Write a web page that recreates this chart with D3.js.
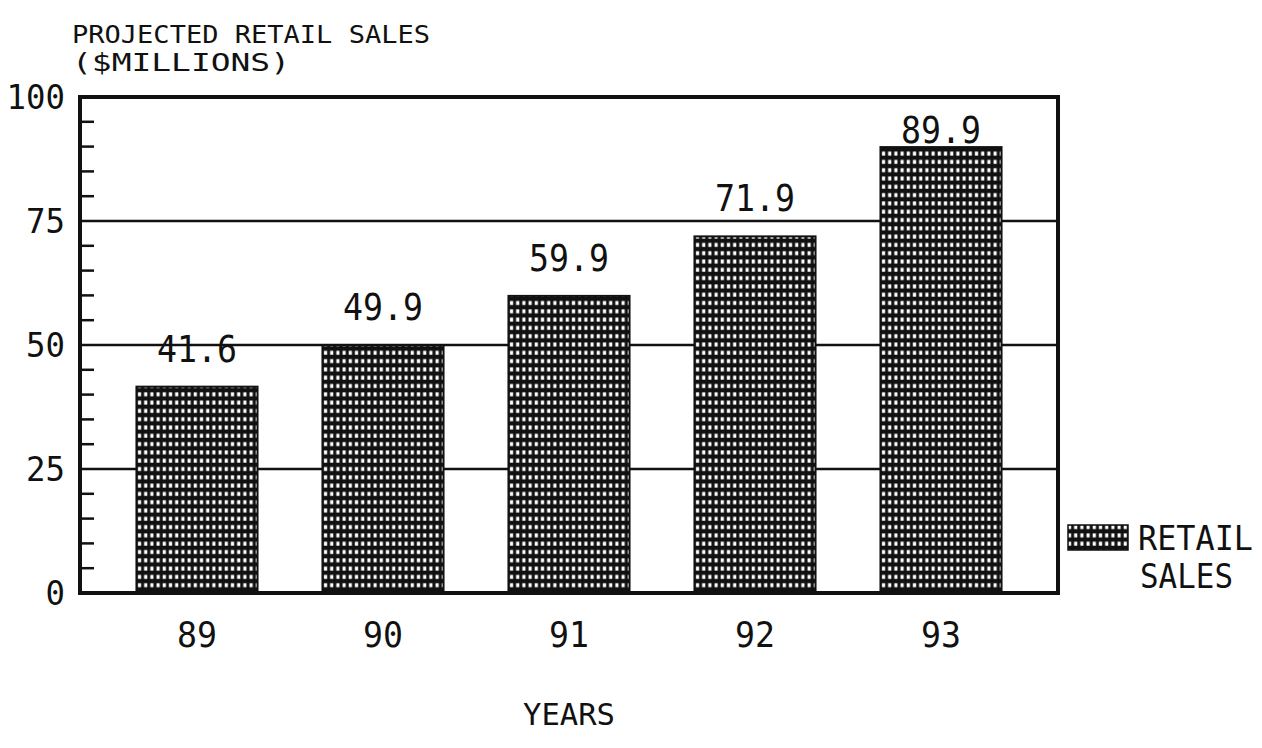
<!DOCTYPE html>
<html>
<head>
<meta charset="utf-8">
<script src="https://cdn.jsdelivr.net/npm/d3@7"></script>
<style>
  body { margin: 0; background: #fff; }
  svg text { font-family: "DejaVu Sans Mono", monospace; fill: #111; }
</style>
</head>
<body>
<svg width="1262" height="748"></svg>
<script>
const years = ["89", "90", "91", "92", "93"];
const sales = [41.6, 49.9, 59.9, 71.9, 89.9];
const yTicks = [0, 25, 50, 75, 100];
const minorTicks = d3.range(5, 100, 5).filter(v => v % 25 !== 0);

const svg = d3.select("svg");
const plotLeft = 80, plotRight = 1058, plotTop = 97, plotBottom = 593;

const x = d3.scaleBand().domain(years).range([plotLeft, plotRight])
    .paddingInner(0.349).paddingOuter(0.3035);
const y = d3.scaleLinear().domain([0, 100]).range([plotBottom, plotTop]);

// cross-hatch fill like the plotter
const defs = svg.append("defs");
const pat = defs.append("pattern")
    .attr("id", "grid")
    .attr("patternUnits", "userSpaceOnUse")
    .attr("width", 6.2).attr("height", 8.3);
pat.append("rect").attr("width", 6.2).attr("height", 8.3).attr("fill", "#111");
pat.append("rect").attr("x", 1.5).attr("y", 2.2).attr("width", 3.2).attr("height", 4).attr("fill", "#fff");

// gridlines
svg.selectAll("line.grid").data(yTicks.filter(v => v > 0 && v < 100))
    .enter().append("line")
    .attr("class", "grid")
    .attr("x1", plotLeft).attr("x2", plotRight)
    .attr("y1", d => y(d)).attr("y2", d => y(d))
    .attr("stroke", "#111").attr("stroke-width", 2.5);

// minor ticks inside the left axis
svg.selectAll("line.minor").data(minorTicks)
    .enter().append("line")
    .attr("class", "minor")
    .attr("x1", plotLeft).attr("x2", plotLeft + 14)
    .attr("y1", d => y(d)).attr("y2", d => y(d))
    .attr("stroke", "#111").attr("stroke-width", 2.5);

// bars
svg.selectAll("rect.bar").data(sales)
    .enter().append("rect")
    .attr("class", "bar")
    .attr("x", (d, i) => x(years[i]))
    .attr("y", d => y(d))
    .attr("width", x.bandwidth())
    .attr("height", d => y(0) - y(d))
    .attr("fill", "url(#grid)")
    .attr("stroke", "#111").attr("stroke-width", 2);

// frame
svg.append("path")
    .attr("d", `M${plotLeft},${plotBottom} V${plotTop} H${plotRight} V${plotBottom} Z`)
    .attr("fill", "none").attr("stroke", "#111").attr("stroke-width", 4);

// value labels
svg.selectAll("text.val").data(sales)
    .enter().append("text")
    .attr("class", "val")
    .attr("x", (d, i) => x(years[i]) + x.bandwidth() / 2)
    .attr("y", d => Math.max(y(d) - 25, y(100) + 46))
    .attr("text-anchor", "middle")
    .attr("font-size", 37)
    .attr("textLength", 80).attr("lengthAdjust", "spacingAndGlyphs")
    .text(d => d.toFixed(1));

// y tick labels
svg.selectAll("text.ytick").data(yTicks)
    .enter().append("text")
    .attr("class", "ytick")
    .attr("x", 65)
    .attr("y", d => y(d) + 12)
    .attr("text-anchor", "end")
    .attr("font-size", 33)
    .attr("textLength", d => String(d).length * 19.5).attr("lengthAdjust", "spacingAndGlyphs")
    .text(d => d);

// year labels
svg.selectAll("text.year").data(years)
    .enter().append("text")
    .attr("class", "year")
    .attr("x", d => x(d) + x.bandwidth() / 2)
    .attr("y", 647)
    .attr("text-anchor", "middle")
    .attr("font-size", 36)
    .attr("textLength", 40).attr("lengthAdjust", "spacingAndGlyphs")
    .text(d => d);

// titles
svg.append("text").attr("x", 72).attr("y", 43).attr("font-size", 24)
    .attr("textLength", 358).attr("lengthAdjust", "spacingAndGlyphs")
    .text("PROJECTED RETAIL SALES");
svg.append("text").attr("x", 72).attr("y", 71).attr("font-size", 24)
    .attr("textLength", 218).attr("lengthAdjust", "spacingAndGlyphs")
    .text("($MILLIONS)");
svg.append("text").attr("x", 569).attr("y", 725).attr("font-size", 31)
    .attr("text-anchor", "middle")
    .attr("textLength", 92).attr("lengthAdjust", "spacingAndGlyphs")
    .text("YEARS");

// legend
svg.append("rect").attr("x", 1068).attr("y", 525).attr("width", 60).attr("height", 25)
    .attr("fill", "url(#grid)").attr("stroke", "#111").attr("stroke-width", 1.5);
svg.append("text").attr("x", 1138).attr("y", 550).attr("font-size", 34)
    .attr("textLength", 115).attr("lengthAdjust", "spacingAndGlyphs")
    .text("RETAIL");
svg.append("text").attr("x", 1140).attr("y", 588).attr("font-size", 34)
    .attr("textLength", 93).attr("lengthAdjust", "spacingAndGlyphs")
    .text("SALES");
</script>
</body>
</html>
